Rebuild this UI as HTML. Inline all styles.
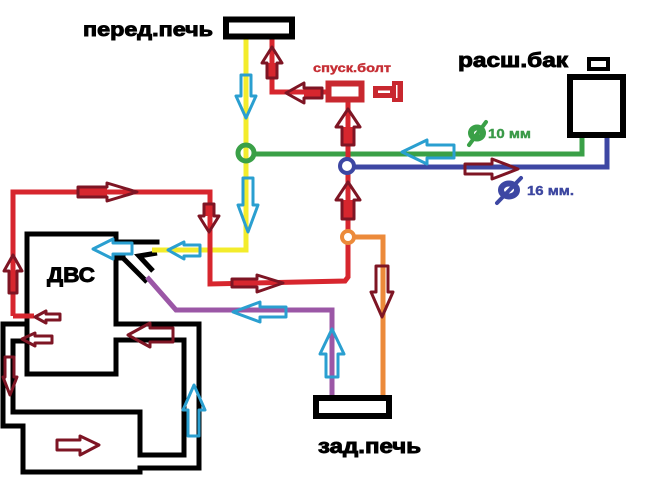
<!DOCTYPE html>
<html><head><meta charset="utf-8"><style>
html,body{margin:0;padding:0;background:#fff;}
svg{display:block;}
text{font-family:"Liberation Sans","DejaVu Sans",sans-serif;font-weight:bold;}
</style></head><body>
<svg width="650" height="487" viewBox="0 0 650 487" xmlns="http://www.w3.org/2000/svg">
<rect width="650" height="487" fill="#fff"/>

<!-- black engine outlines -->
<g fill="none" stroke="#000" stroke-width="5" stroke-linejoin="miter" stroke-linecap="square">
  <polyline points="157,242 116,242 116,234 27,234 27,374 116,374 116,340 184,340 184,455 140,455 140,412 13,412 13,341 27,341"/>
  <polyline points="27,324 3,324 3,426 23,426 23,472 140,472 140,468 199,468 199,324 116,324 116,258 123,258"/>
</g>
<g fill="none" stroke="#000" stroke-width="5" stroke-linecap="butt">
  <line x1="123" y1="258" x2="147" y2="282"/>
  <polyline points="157,253 139,256 153,271"/>
</g>

<!-- colored pipes -->
<g fill="none" stroke-width="5" stroke-linejoin="miter">
  <polyline stroke="#f3ec2b" points="246,39 246,250 152,250"/>
  <polyline stroke="#3aa047" points="254,154 582,154 582,137"/>
  <polyline stroke="#3d47a3" points="354,167 607,167 607,137"/>
  <polyline stroke="#9b57a6" points="332,396 332,310 176,310 147,277"/>
  <polyline stroke="#ec8a3a" points="354,237 383,237 383,396"/>
  <polyline stroke="#d7262e" points="13,316 13,192 210,192 210,284 345,281 348,277 348,243"/>
  <line stroke="#d7262e" x1="13" y1="316" x2="34" y2="316"/>
  <line stroke="#d7262e" x1="348" y1="231" x2="348" y2="172"/>
  <line stroke="#d7262e" x1="348" y1="160" x2="348" y2="101"/>
  <polyline stroke="#d7262e" points="326,92 272,92 272,39"/>
</g>

<!-- junction circles -->
<circle cx="246" cy="153" r="8" fill="none" stroke="#3aa047" stroke-width="5"/>
<circle cx="347" cy="166" r="7" fill="none" stroke="#3d47a3" stroke-width="4"/>
<circle cx="348" cy="237" r="6" fill="none" stroke="#ec8a3a" stroke-width="4"/>

<!-- boxes -->
<rect x="226" y="19.5" width="66" height="17" fill="#fff" stroke="#000" stroke-width="6"/>
<rect x="316" y="398" width="73" height="18" fill="#fff" stroke="#000" stroke-width="6"/>
<rect x="570" y="77" width="53" height="58" fill="#fff" stroke="#000" stroke-width="6"/>
<rect x="589" y="59" width="19" height="10" fill="#fff" stroke="#000" stroke-width="4"/>
<!-- drain box + bolt -->
<rect x="328.5" y="83.5" width="33" height="16" fill="#fff" stroke="#c8282f" stroke-width="6"/>
<rect x="373" y="86" width="20" height="12" fill="#c8282f"/>
<rect x="378" y="90.5" width="12" height="2.5" fill="#fff"/>
<rect x="392" y="81" width="11" height="21" fill="#c8282f"/>
<rect x="396" y="85" width="1.5" height="13" fill="#fff"/>

<!-- diameter symbols -->
<ellipse cx="477" cy="133" rx="6" ry="5.5" fill="none" stroke="#3aa047" stroke-width="6"/>
<line x1="469" y1="145" x2="486" y2="122" stroke="#3aa047" stroke-width="4" stroke-linecap="round"/>
<ellipse cx="509" cy="190" rx="8" ry="6.5" fill="none" stroke="#3d47a3" stroke-width="6"/>
<line x1="497" y1="203" x2="521" y2="178" stroke="#3d47a3" stroke-width="4" stroke-linecap="round"/>

<!-- red shaft fills for arrows on red lines -->
<g fill="#d7262e">
  <rect x="78" y="187" width="29" height="10"/>
  <rect x="204" y="204" width="10" height="12"/>
  <rect x="267" y="63" width="10" height="15"/>
  <rect x="304" y="88" width="18" height="10"/>
  <rect x="342" y="127" width="12" height="18"/>
  <rect x="342" y="200" width="12" height="19"/>
  <rect x="232" y="279" width="25" height="8"/>
  <rect x="9" y="271" width="8" height="22"/>
</g>

<!-- maroon arrows -->
<g fill="none" stroke="#7e1524" stroke-width="3" stroke-linejoin="round">
  <polygon points="78,187 107,187 107,183 137,192 107,201 107,197 78,197"/>
  <polygon points="204,204 214,204 214,216 219,216 209,232 199,216 204,216"/>
  <polygon points="272,47 282,63 277,63 277,78 267,78 267,63 262,63"/>
  <polygon points="286,93 304,83 304,88 322,88 322,98 304,98 304,103"/>
  <polygon points="348,109 360,127 354,127 354,145 342,145 342,127 336,127"/>
  <polygon points="348,182 360,200 354,200 354,219 342,219 342,200 336,200"/>
  <polygon points="465,164 492,164 492,159 518,169 492,179 492,174 465,174"/>
  <polygon points="232,279 257,279 257,275 283,283 257,292 257,287 232,287"/>
  <polygon points="376,266 388,266 388,292 393,292 382,317 371,292 376,292"/>
  <polygon points="13,255 22,271 17,271 17,293 9,293 9,271 4,271"/>
  <polygon points="35,317 46,311 46,314 60,314 60,320 46,320 46,323"/>
  <polygon points="22,339 35,333 35,336 52,336 52,343 35,343 35,346"/>
  <polygon points="5,357 14,357 14,377 17,377 10,395 3,377 5,377"/>
  <polygon points="128,335 150,323 150,328 173,328 173,342 150,342 150,347"/>
  <polygon points="57,440 80,440 80,436 99,445 80,455 80,450 57,450"/>
</g>

<!-- cyan arrows -->
<g fill="none" stroke="#2a9fd0" stroke-width="3" stroke-linejoin="round">
  <polygon points="241,75 251,75 251,96 256,96 246,118 236,96 241,96"/>
  <polygon points="243,178 253,178 253,205 258,205 248,232 238,205 243,205"/>
  <polygon points="402,152 427,140 427,145 454,145 454,158 427,158 427,164"/>
  <polygon points="233,312 260,302 260,307 286,307 286,317 260,317 260,322"/>
  <polygon points="332,329 344,354 338,354 338,377 326,377 326,354 320,354"/>
  <polygon points="168,250 184,242 184,245 200,245 200,256 184,256 184,259"/>
  <polygon points="93,249 113,239 113,243 132,243 132,254 113,254 113,259"/>
  <polygon points="194,385 205,410 199,410 199,436 188,436 188,410 183,410"/>
</g>

<!-- labels -->
<text x="83" y="36" font-size="19" textLength="130" lengthAdjust="spacingAndGlyphs" fill="#000" stroke="#000" stroke-width="0.9">перед.печь</text>
<text x="458" y="67" font-size="20" textLength="110" lengthAdjust="spacingAndGlyphs" fill="#000" stroke="#000" stroke-width="0.9">расш.бак</text>
<text x="318" y="453" font-size="20" textLength="103" lengthAdjust="spacingAndGlyphs" fill="#000" stroke="#000" stroke-width="0.9">зад.печь</text>
<text x="47" y="282" font-size="21" textLength="48" lengthAdjust="spacingAndGlyphs" fill="#000" stroke="#000" stroke-width="0.9">ДВС</text>
<text x="313" y="72" font-size="12" textLength="78" lengthAdjust="spacingAndGlyphs" fill="#c62f35" stroke="#c62f35" stroke-width="0.4">спуск.болт</text>
<text x="488" y="138" font-size="12.5" textLength="43" lengthAdjust="spacingAndGlyphs" fill="#3a9a48" stroke="#3a9a48" stroke-width="0.4">10 мм</text>
<text x="527" y="195" font-size="13" textLength="47" lengthAdjust="spacingAndGlyphs" fill="#3d47a0" stroke="#3d47a0" stroke-width="0.4">16 мм.</text>
</svg>
</body></html>
